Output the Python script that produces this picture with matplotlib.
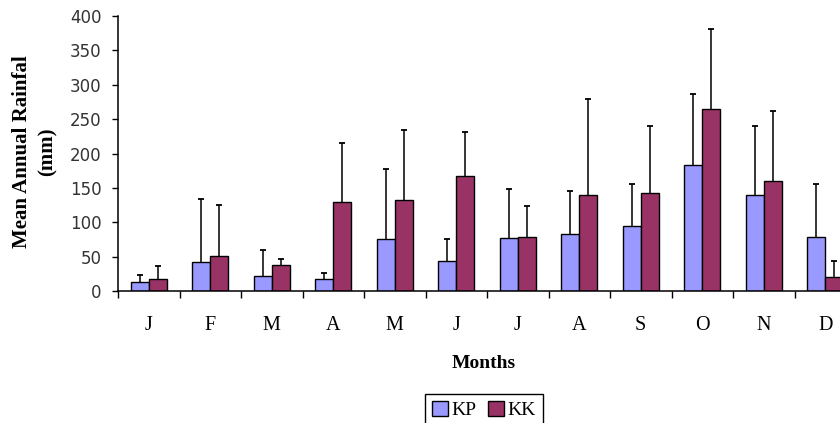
import numpy as np
import matplotlib
matplotlib.use("Agg")
import matplotlib.pyplot as plt
from matplotlib.ticker import FixedLocator, NullFormatter

months = ['J', 'F', 'M', 'A', 'M', 'J', 'J', 'A', 'S', 'O', 'N', 'D']
kp_mean = [13.5, 42, 22, 18, 75, 44, 77, 83, 94, 184, 140, 79]
kp_top = [24, 134, 59, 26, 177, 75, 149, 145, 155, 286, 240, 155]
kk_mean = [17.5, 50.5, 37.5, 129.5, 133, 168, 79, 140, 143, 265, 160, 20.5]
kk_top = [37, 124.5, 46, 216, 234, 232, 123, 280, 240, 380.5, 262, 44]

kp_col = '#9999FF'
kk_col = '#993366'

fig = plt.figure(figsize=(8.4, 4.23), dpi=100)
ax = fig.add_axes([118/840, 132/423, 738/840, 275/423])

x = np.arange(len(months))
w = 0.295

ax.bar(x - w/2, kp_mean, w, color=kp_col, edgecolor='black', linewidth=1.0, label='KP')
ax.bar(x + w/2, kk_mean, w, color=kk_col, edgecolor='black', linewidth=1.0, label='KK')

# upper error bars only, no cap at the bar top
for xs, lo, hi in [(x - w/2, kp_mean, kp_top), (x + w/2, kk_mean, kk_top)]:
    ax.vlines(xs, lo, hi, color='black', linewidth=1.1, zorder=3)
    ax.plot(xs, hi, linestyle='none', marker='_', markersize=5,
            markeredgewidth=1.3, color='black', zorder=3)

ax.set_xlim(-0.5, len(months) - 0.5)
ax.set_ylim(0, 400)
ax.set_yticks(np.arange(0, 401, 50))
ax.tick_params(axis='y', direction='out', length=4, width=1.0, pad=8,
               labelsize=12, labelcolor='#333333')
for t in ax.get_yticklabels():
    t.set_family('DejaVu Sans')

ax.xaxis.set_major_locator(FixedLocator(np.arange(-0.5, len(months), 1.0)))
ax.xaxis.set_major_formatter(NullFormatter())
ax.xaxis.set_minor_locator(FixedLocator(x))
ax.set_xticklabels(months, minor=True, family='Liberation Serif', fontsize=14.5)
ax.tick_params(axis='x', which='major', direction='out', length=5, width=1.0)
ax.tick_params(axis='x', which='minor', length=0, pad=18)

for s in ['top', 'right']:
    ax.spines[s].set_visible(False)
for s in ['left', 'bottom']:
    ax.spines[s].set_linewidth(1.1)

fig.text(35/840, 1 - 152/423, 'Mean Annual Rainfal\n(mm)', rotation=90,
         ha='center', va='center', multialignment='center', linespacing=1.4,
         family='Liberation Serif', fontweight='bold', fontsize=15)
fig.text(484/840, 1 - 363/423, 'Months', ha='center', va='center',
         family='Liberation Serif', fontweight='bold', fontsize=14)

leg = fig.legend(loc='upper center', bbox_to_anchor=(484/840, 1 - 394/423), ncol=2,
                 frameon=True, fancybox=False, edgecolor='black', framealpha=1,
                 prop={'family': 'Liberation Serif', 'size': 14},
                 handlelength=0.8, handleheight=0.8, handletextpad=0.2,
                 columnspacing=0.6, borderpad=0.35, borderaxespad=0)
leg.get_frame().set_linewidth(1.0)

fig.savefig('out.png', dpi=100)
